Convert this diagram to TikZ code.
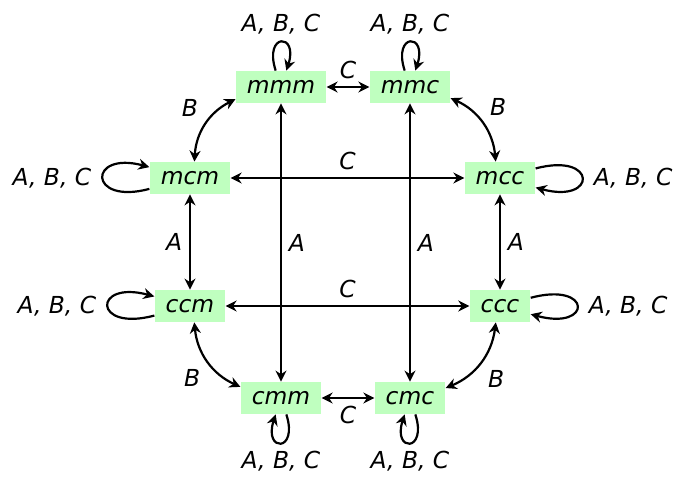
\documentclass[tikz,border=0pt]{standalone}
\usepackage{fontspec}
\setmainfont{DejaVu Sans}
\usetikzlibrary{arrows.meta}
\begin{document}
\begin{tikzpicture}[x=0.5pt,y=-0.5pt,
  font=\fontsize{11.7}{13}\selectfont\itshape,
  tip/.tip={Stealth[length=5.5pt,width=5.5pt,inset=1.8pt]},
  state/.style={fill=green!25, inner xsep=5.5pt, inner ysep=2pt, minimum height=16pt},
  conn/.style={line width=1.1pt, {tip}-{tip}},
  self/.style={line width=1.1pt, -{tip}},
  vloop/.style={looseness=1, min distance=20pt},
  hloop/.style={looseness=1, min distance=32pt}]
\useasboundingbox (0,0) rectangle (674,477);
\node[state] (mmm) at (281,87) {mmm};
\node[state] (mmc) at (410,87) {mmc};
\node[state] (mcm) at (190,178) {mcm};
\node[state] (mcc) at (500,178) {mcc};
\node[state] (ccm) at (190,306) {ccm};
\node[state] (ccc) at (500,306) {ccc};
\node[state] (cmm) at (281,398) {cmm};
\node[state] (cmc) at (410,398) {cmc};

\draw[conn] (mmm) -- node[above] {C} (mmc);
\draw[conn] (mcm) -- node[above] {C} (mcc);
\draw[conn] (ccm) -- node[above] {C} (ccc);
\draw[conn] (cmm) -- node[below] {C} (cmc);
\draw[conn] (mmm) -- node[right] {A} (cmm);
\draw[conn] (mmc) -- node[right] {A} (cmc);
\draw[conn] (mcm) -- node[left] {A} (ccm);
\draw[conn] (mcc) -- node[right] {A} (ccc);
\draw[conn] (mcm) to[bend left] node[above left] {B} (mmm);
\draw[conn] (mmc) to[bend left] node[above right] {B} (mcc);
\draw[conn] (ccc) to[bend left] node[below right] {B} (cmc);
\draw[conn] (cmm) to[bend left] node[below left] {B} (ccm);

\draw[self] (mmm) to[loop above, out=108, in=72, vloop] node[above] {A, B, C} (mmm);
\draw[self] (mmc) to[loop above, out=108, in=72, vloop] node[above] {A, B, C} (mmc);
\draw[self] (cmm) to[loop below, out=288, in=252, vloop] node[below] {A, B, C} (cmm);
\draw[self] (cmc) to[loop below, out=288, in=252, vloop] node[below] {A, B, C} (cmc);
\draw[self] (mcm) to[loop left, hloop] node[left, xshift=-2pt] {A, B, C} (mcm);
\draw[self] (ccm) to[loop left, hloop] node[left, xshift=-2pt] {A, B, C} (ccm);
\draw[self] (mcc) to[loop right, hloop] node[right, xshift=2pt] {A, B, C} (mcc);
\draw[self] (ccc) to[loop right, hloop] node[right, xshift=2pt] {A, B, C} (ccc);
\end{tikzpicture}
\end{document}
